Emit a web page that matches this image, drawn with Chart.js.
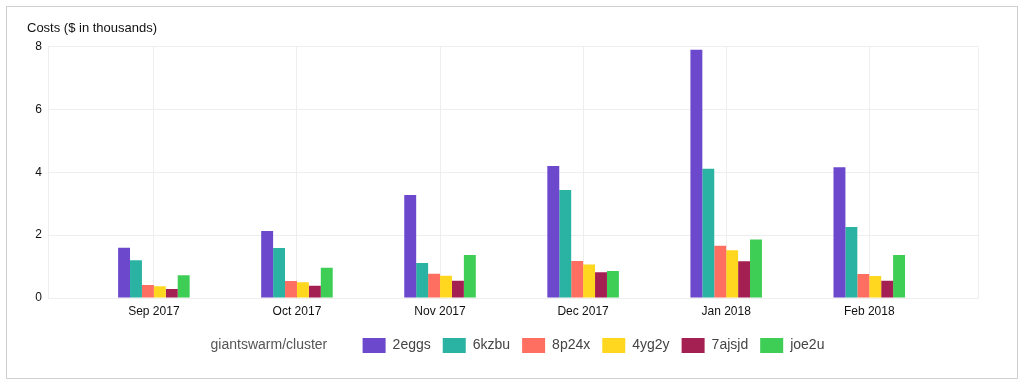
<!DOCTYPE html>
<html>
<head>
<meta charset="utf-8">
<script src="https://cdn.jsdelivr.net/npm/chart.js@4"></script>
<style>
  html, body { margin: 0; padding: 0; background: #fff; }
  #frame { position: absolute; left: 6px; top: 6px; width: 1010px; height: 371px; border: 1px solid #d0d0d0; }
  #wrap { position: absolute; left: 0; top: 0; width: 1024px; height: 383px; }
</style>
</head>
<body>
<div id="frame"></div>
<div id="wrap"><canvas id="chart"></canvas></div>
<script>
const months = ['Sep 2017', 'Oct 2017', 'Nov 2017', 'Dec 2017', 'Jan 2018', 'Feb 2018'];
const clusters = ['2eggs', '6kzbu', '8p24x', '4yg2y', '7ajsjd', 'joe2u'];
const colors = ['#6b48cc', '#2ab2a2', '#ff6f61', '#ffd71e', '#a41f52', '#3ecd55'];

// costs per cluster, thousands of dollars, one value per month
const eggs2 = [1.60, 2.13, 3.28, 4.20, 7.90, 4.16];
const kzbu6 = [1.20, 1.59, 1.11, 3.44, 4.11, 2.26];
const p24x8 = [0.41, 0.54, 0.77, 1.18, 1.66, 0.76];
const yg2y4 = [0.37, 0.50, 0.71, 1.07, 1.52, 0.70];
const ajsjd7 = [0.29, 0.39, 0.55, 0.82, 1.17, 0.55];
const joe2u = [0.72, 0.96, 1.37, 0.86, 1.86, 1.37];
const yTicks = [0, 2, 4, 6, 8];

const series = [eggs2, kzbu6, p24x8, yg2y4, ajsjd7, joe2u];
const font = 'Helvetica, Arial, "Liberation Sans", sans-serif';
const xMin = -0.74, xMax = 5.76;

const datasets = series.map((values, i) => ({
  label: clusters[i],
  data: values.map((v, m) => ({ x: m, y: v })),
  backgroundColor: colors[i],
  borderWidth: 0,
  // edge ticks sit 0.74 apart, the ruler takes that as the slot
  categoryPercentage: 0.5 / 0.74,
  barPercentage: 1.0
}));

new Chart(document.getElementById('chart'), {
  type: 'bar',
  data: { datasets },
  options: {
    responsive: true,
    maintainAspectRatio: false,
    animation: false,
    layout: { padding: { left: 27, right: 46, top: 21, bottom: 20 } },
    plugins: {
      tooltip: { enabled: false },
      title: {
        display: true,
        text: 'Costs ($ in thousands)',
        align: 'start',
        color: '#111',
        font: { family: font, size: 13, weight: 'normal' },
        padding: { top: 0, bottom: 10 }
      },
      legend: {
        position: 'bottom',
        onClick: null,
        labels: {
          font: { family: font, size: 14 },
          color: '#555',
          boxWidth: 23,
          boxHeight: 15,
          padding: 12,
          generateLabels: (chart) => {
            // legend heading sits inline, before the swatches
            const items = [{
              text: 'giantswarm/cluster      ',
              fillStyle: 'rgba(0,0,0,0)',
              strokeStyle: 'rgba(0,0,0,0)',
              lineWidth: 0,
              fontColor: '#555',
              hidden: false
            }];
            chart.data.datasets.forEach((ds, i) => items.push({
              text: ds.label,
              fillStyle: ds.backgroundColor,
              strokeStyle: ds.backgroundColor,
              lineWidth: 0,
              fontColor: '#444',
              hidden: false,
              datasetIndex: i
            }));
            return items;
          }
        }
      }
    },
    scales: {
      x: {
        type: 'linear',
        min: xMin,
        max: xMax,
        offset: false,
        afterBuildTicks: (scale) => {
          scale.ticks = [xMin, ...months.map((m, i) => i), xMax].map(v => ({ value: v }));
        },
        grid: { color: '#eeeeee', drawTicks: false, offset: false },
        border: { color: '#eeeeee' },
        ticks: {
          padding: 8,
          color: '#111',
          font: { family: font, size: 12, lineHeight: 1 },
          callback: (v) => Number.isInteger(v) ? months[v] : ''
        }
      },
      y: {
        min: 0,
        max: 8,
        afterFit: (scale) => { scale.width = 21; },
        afterBuildTicks: (scale) => { scale.ticks = yTicks.map(v => ({ value: v })); },
        grid: { color: '#eeeeee', drawTicks: false },
        border: { display: false },
        ticks: {
          padding: 6,
          color: '#111',
          font: { family: font, size: 12 }
        }
      }
    }
  }
});
</script>
</body>
</html>
